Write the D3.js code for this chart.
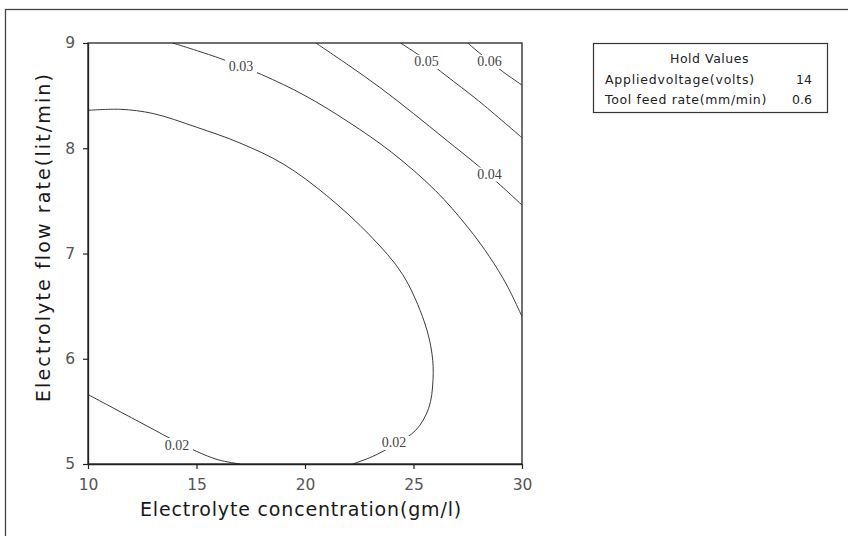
<!DOCTYPE html>
<html>
<head>
<meta charset="utf-8">
<script src="https://cdn.jsdelivr.net/npm/d3@7"></script>
<style>
  html, body { margin: 0; padding: 0; background: #fff; }
  svg { display: block; }
</style>
</head>
<body>
<svg id="chart" width="848" height="536"></svg>
<script>
// ---- data ----
const xTicks = [10, 15, 20, 25, 30];
const yTicks = [5, 6, 7, 8, 9];
const xDomain = [10, 30];
const yDomain = [5, 9];

const contourLevels = ["0.02", "0.02", "0.03", "0.04", "0.05", "0.06"];

const c002aX = [10, 11, 12, 13, 14, 15, 16, 17];
const c002aY = [5.66, 5.55, 5.44, 5.33, 5.22, 5.12, 5.04, 5.0];

const c002bX = [10, 11.5, 13, 15, 17, 19, 21, 23, 24.5, 25.5, 25.85, 25.9, 25.7, 25.1, 24.1, 23.1, 22.2];
const c002bY = [8.36, 8.37, 8.33, 8.2, 8.05, 7.85, 7.55, 7.17, 6.8, 6.35, 6.05, 5.8, 5.53, 5.32, 5.18, 5.07, 5.0];

const c003X = [13.9, 16, 18, 20, 22, 24, 26, 27.5, 28.5, 29.3, 30];
const c003Y = [9.0, 8.86, 8.7, 8.5, 8.25, 7.96, 7.6, 7.25, 6.97, 6.7, 6.4];

const c004X = [20.5, 22, 23.5, 25, 26.5, 28, 29, 30];
const c004Y = [9.0, 8.79, 8.57, 8.33, 8.08, 7.83, 7.65, 7.46];

const c005X = [24.4, 25.5, 26.5, 28, 30];
const c005Y = [9.0, 8.85, 8.69, 8.45, 8.1];

const c006X = [27.5, 28.3, 29.1, 30];
const c006Y = [9.0, 8.86, 8.73, 8.6];

const labelX = [14.1, 24.1, 17.05, 28.5, 25.6, 28.5];
const labelY = [5.18, 5.2, 8.78, 7.75, 8.82, 8.82];

const holdTitle = "Hold Values";
const holdNames = ["Appliedvoltage(volts)", "Tool feed rate(mm/min)"];
const holdValues = ["14", "0.6"];

const xTitle = "Electrolyte concentration(gm/l)";
const yTitle = "Electrolyte flow rate(lit/min)";

// ---- drawing ----
const svg = d3.select("#chart");
const plot = { left: 88, right: 522, top: 43, bottom: 464 };
const sans = "'DejaVu Sans', Verdana, sans-serif";

const x = d3.scaleLinear().domain(xDomain).range([plot.left, plot.right]);
const y = d3.scaleLinear().domain(yDomain).range([plot.bottom, plot.top]);

// fit a text to a target width by adjusting letter-spacing
function fitText(sel, target) {
  const node = sel.node();
  const natural = node.getComputedTextLength();
  const n = node.textContent.length;
  if (n > 1) sel.attr("letter-spacing", ((target - natural) / n).toFixed(3));
  return sel;
}

// outer frame (extends beyond the window on right and bottom)
svg.append("rect")
  .attr("x", 5.5).attr("y", 9.5)
  .attr("width", 1000).attr("height", 1000)
  .attr("fill", "none").attr("stroke", "#444").attr("stroke-width", 1.3);

svg.append("clipPath").attr("id", "clip")
  .append("rect")
  .attr("x", plot.left).attr("y", plot.top)
  .attr("width", plot.right - plot.left).attr("height", plot.bottom - plot.top);

const contours = [
  [c002aX, c002aY], [c002bX, c002bY], [c003X, c003Y],
  [c004X, c004Y], [c005X, c005Y], [c006X, c006Y]
];

const line = d3.line()
  .x(d => x(d[0]))
  .y(d => y(d[1]))
  .curve(d3.curveCatmullRom.alpha(0.5));

const cg = svg.append("g").attr("clip-path", "url(#clip)");
contours.forEach(([xs, ys]) => {
  const pts = xs.map((v, j) => [v, ys[j]]);
  cg.append("path")
    .attr("d", line(pts))
    .attr("fill", "none")
    .attr("stroke", "#3a3a3a")
    .attr("stroke-width", 1);
});

// contour labels with white gaps
const lg = svg.append("g");
contourLevels.forEach((lab, i) => {
  const cx = x(labelX[i]), cy = y(labelY[i]);
  lg.append("rect")
    .attr("x", cx - 16).attr("y", cy - 7)
    .attr("width", 32).attr("height", 14)
    .attr("fill", "#fff");
  lg.append("text")
    .attr("x", cx).attr("y", cy)
    .attr("text-anchor", "middle")
    .attr("dominant-baseline", "central")
    .attr("font-family", "'Liberation Serif', 'DejaVu Serif', serif")
    .attr("font-size", 14)
    .attr("fill", "#444")
    .text(lab);
});

// plot frame
svg.append("rect")
  .attr("x", plot.left).attr("y", plot.top)
  .attr("width", plot.right - plot.left).attr("height", plot.bottom - plot.top)
  .attr("fill", "none").attr("stroke", "#222").attr("stroke-width", 1.3);

// axes
const xAxis = d3.axisBottom(x).tickValues(xTicks).tickSizeInner(5).tickSizeOuter(0).tickPadding(10).tickFormat(d3.format("d"));
const yAxis = d3.axisLeft(y).tickValues(yTicks).tickSizeInner(5).tickSizeOuter(0).tickPadding(8).tickFormat(d3.format("d"));

const gx = svg.append("g").attr("transform", `translate(0,${plot.bottom})`).call(xAxis);
const gy = svg.append("g").attr("transform", `translate(${plot.left},0)`).call(yAxis);
[gx, gy].forEach(g => {
  g.select(".domain").attr("stroke", "#222").attr("stroke-width", 1.3);
  g.selectAll(".tick line").attr("stroke", "#222").attr("stroke-width", 1.2);
  g.selectAll(".tick text")
    .attr("font-family", sans)
    .attr("font-size", 15.5)
    .attr("fill", "#555");
});

// axis titles
const xt = svg.append("text")
  .attr("x", 140).attr("y", 516)
  .attr("font-family", sans)
  .attr("font-size", 19)
  .attr("fill", "#1a1a1a")
  .text(xTitle);
fitText(xt, 322);

const yt = svg.append("text")
  .attr("transform", "rotate(-90)")
  .attr("x", -402).attr("y", 50)
  .attr("font-family", sans)
  .attr("font-size", 19)
  .attr("fill", "#1a1a1a")
  .text(yTitle);
fitText(yt, 330);

// hold values box
const hb = svg.append("g");
hb.append("rect")
  .attr("x", 593.5).attr("y", 43.5)
  .attr("width", 234).attr("height", 69)
  .attr("fill", "#fff").attr("stroke", "#333").attr("stroke-width", 1.2);
const ht = hb.append("text")
  .attr("x", 670).attr("y", 63)
  .attr("font-family", sans)
  .attr("font-size", 12.5).attr("fill", "#222")
  .text(holdTitle);
fitText(ht, 79);
const rowLens = [150, 162];
holdNames.forEach((nm, i) => {
  const by = 84 + i * 20;
  const t = hb.append("text")
    .attr("x", 605).attr("y", by)
    .attr("font-family", sans)
    .attr("font-size", 12.5).attr("fill", "#222")
    .text(nm);
  fitText(t, rowLens[i]);
  hb.append("text")
    .attr("x", 812).attr("y", by)
    .attr("text-anchor", "end")
    .attr("font-family", sans)
    .attr("font-size", 12.5).attr("fill", "#222")
    .text(holdValues[i]);
});
</script>
</body>
</html>
